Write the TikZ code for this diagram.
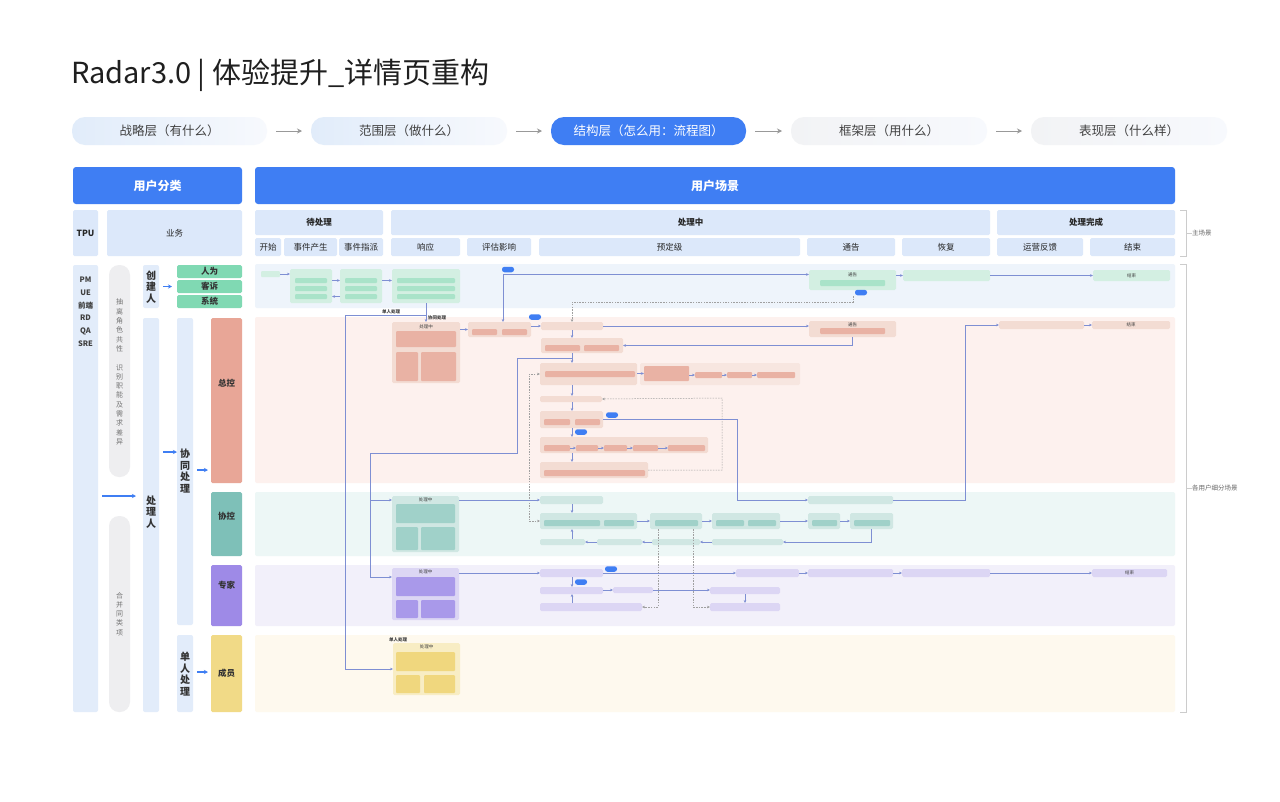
\documentclass[tikz,border=0pt]{standalone}
\usepackage{fontspec}
\setmainfont{Noto Sans CJK SC}
\usetikzlibrary{arrows.meta}
\definecolor{cBlue}{HTML}{3F7EF3}
\definecolor{cHead}{HTML}{DCE8FA}
\definecolor{cPillA}{HTML}{E1ECFA}
\definecolor{cPillB}{HTML}{F7F9FD}
\definecolor{cGray}{HTML}{F2F3F5}
\definecolor{cSide}{HTML}{EEEEF0}
\definecolor{cCol}{HTML}{E2ECFA}
\definecolor{cGreen}{HTML}{80D9B3}
\definecolor{cSal}{HTML}{E8A697}
\definecolor{cTeal}{HTML}{7EC0B8}
\definecolor{cPur}{HTML}{9E8AE7}
\definecolor{cYel}{HTML}{F1DA87}
\definecolor{cLaneA}{HTML}{EEF4FB}
\definecolor{cLaneS}{HTML}{FDF1EE}
\definecolor{cLaneT}{HTML}{EDF7F6}
\definecolor{cLaneP}{HTML}{F2F0FA}
\definecolor{cLaneY}{HTML}{FEF9EE}
\definecolor{gG}{HTML}{D3EFE2}
\definecolor{iG}{HTML}{A9E3C9}
\definecolor{gS}{HTML}{F3DCD3}
\definecolor{iS}{HTML}{E9B2A4}
\definecolor{gT}{HTML}{D0E7E3}
\definecolor{iT}{HTML}{A0D1C9}
\definecolor{gP}{HTML}{DCD6F4}
\definecolor{iP}{HTML}{A999EA}
\definecolor{gY}{HTML}{F8EDC4}
\definecolor{iY}{HTML}{F0D77E}
\definecolor{cLine}{HTML}{7E8FD3}
\definecolor{cDash}{HTML}{A0A0A0}
\newcommand\mybox[7]{\node[#6, minimum width={(#4)-(#2)}, minimum height={(#5)-(#3)}] (#1) at ({((#2)+(#4))/2},{((#3)+(#5))/2}) {#7};}
\tikzset{
 base/.style={inner sep=0pt, outer sep=0pt, align=center},
 pillL/.style={base, rounded corners=13pt, left color=cPillA, right color=cPillB, font=\fontsize{12.5}{13}\selectfont, text=black!75},
 pillB/.style={base, rounded corners=13pt, fill=cBlue, font=\fontsize{12.5}{13}\selectfont, text=white},
 pillG/.style={base, rounded corners=13pt, left color=cGray, right color=cPillB, font=\fontsize{12.5}{13}\selectfont, text=black!75},
 garrow/.style={draw=black!40, line width=1pt, -{Stealth[length=5pt,width=5pt]}},
 bhead/.style={base, rounded corners=3pt, fill=cBlue, text=white, font=\fontsize{12}{12}\selectfont\bfseries},
 lhead/.style={base, rounded corners=1.5pt, fill=cHead, text=black!85, font=\fontsize{8.5}{9}\selectfont},
 lheadb/.style={lhead, font=\fontsize{8.5}{9}\selectfont\bfseries},
 col/.style={base, rounded corners=2pt, fill=cCol},
 side/.style={base, rounded corners=10pt, fill=cSide},
 vtxt/.style={base, font=\fontsize{10}{11.6}\selectfont\bfseries, text=black!80},
 stxt/.style={base, font=\fontsize{7}{9.3}\selectfont, text=black!55},
 barrow/.style={draw=cBlue, line width=1.1pt, -{Stealth[length=4pt,width=4pt]}},
 role/.style={base, rounded corners=1.5pt, font=\fontsize{8.5}{9}\selectfont\bfseries, text=black!80},
 lane/.style={base, rounded corners=2pt},
 grp/.style={base, rounded corners=1.5pt},
 inb/.style={base, rounded corners=1pt},
 tiny/.style={base, font=\fontsize{4.5}{5}\selectfont, text=black!75},
 tag/.style={base, rounded corners=2.5pt, fill=cBlue, minimum width=12pt, minimum height=5.5pt},
 flow/.style={draw=cLine, line width=0.6pt, -{Stealth[length=3pt,width=2.6pt]}},
 fline/.style={draw=cLine, line width=0.6pt},
 dsh/.style={draw=cDash, line width=0.5pt, dash pattern=on 1.5pt off 1.2pt},
 dshA/.style={dsh, -{Stealth[length=3pt,width=2.6pt]}},
 brk/.style={draw=black!20, line width=0.6pt},
 note/.style={base, font=\fontsize{6.5}{7}\selectfont, text=black!60, anchor=west},
}
\begin{document}
\begin{tikzpicture}[x=1pt,y=-1pt]
\useasboundingbox[fill=white] (0,0) rectangle (1280,801);

% title
\node[base, anchor=base west, font=\fontsize{29}{29}\selectfont, text=black!88] (title) at (71,83) {Radar3.0 | 体验提升\_详情页重构};

% pipeline
\mybox{p1}{72}{117}{267}{145}{pillL}{战略层（有什么）}
\mybox{p2}{311}{117}{507}{145}{pillL}{范围层（做什么）}
\mybox{p3}{551}{117}{746}{145}{pillB}{结构层（怎么用：流程图）}
\mybox{p4}{791}{117}{987}{145}{pillG}{框架层（用什么）}
\mybox{p5}{1031}{117}{1227}{145}{pillG}{表现层（什么样）}
\draw[garrow] ([xshift=9pt]p1.east) -- ([xshift=-9pt]p2.west);
\draw[garrow] ([xshift=9pt]p2.east) -- ([xshift=-9pt]p3.west);
\draw[garrow] ([xshift=9pt]p3.east) -- ([xshift=-9pt]p4.west);
\draw[garrow] ([xshift=9pt]p4.east) -- ([xshift=-9pt]p5.west);

% headers
\mybox{h1}{73}{167}{242}{204}{bhead}{用户分类}
\mybox{h2}{255}{167}{1175}{204}{bhead}{用户场景}
\mybox{tpu}{73}{210}{98}{256}{lheadb}{TPU}
\mybox{yw}{107}{210}{242}{256}{lhead}{业务}
\mybox{s1}{255}{210}{383}{235}{lheadb}{待处理}
\mybox{s2}{391}{210}{990}{235}{lheadb}{处理中}
\mybox{s3}{997}{210}{1175}{235}{lheadb}{处理完成}
\mybox{c1}{255}{238}{281}{256}{lhead}{开始}
\mybox{c2}{284}{238}{337}{256}{lhead}{事件产生}
\mybox{c3}{339}{238}{383}{256}{lhead}{事件指派}
\mybox{c4}{391}{238}{460}{256}{lhead}{响应}
\mybox{c5}{467}{238}{531}{256}{lhead}{评估影响}
\mybox{c6}{539}{238}{800}{256}{lhead}{预定级}
\mybox{c7}{807}{238}{895}{256}{lhead}{通告}
\mybox{c8}{902}{238}{990}{256}{lhead}{恢复}
\mybox{c9}{997}{238}{1083}{256}{lhead}{运营反馈}
\mybox{c10}{1090}{238}{1175}{256}{lhead}{结束}

% right brackets
\coordinate (b1a) at (1180,210); \coordinate (b1b) at (1186,210); \coordinate (b1c) at (1186,256); \coordinate (b1d) at (1180,256);
\draw[brk] (b1a) -- (b1b) -- (b1c) -- (b1d);
\node[note] (n1) at (1192,233) {主场景};
\coordinate (b1m) at (1186,233); \draw[brk] (b1m) -- (n1.west);
\coordinate (b2a) at (1180,264); \coordinate (b2b) at (1186,264); \coordinate (b2c) at (1186,712); \coordinate (b2d) at (1180,712);
\draw[brk] (b2a) -- (b2b) -- (b2c) -- (b2d);
\node[note] (n2) at (1192,488) {各用户细分场景};
\coordinate (b2m) at (1186,488); \draw[brk] (b2m) -- (n2.west);

% left panel
\mybox{tpucol}{73}{265}{98}{712}{col}{}
\node[base, font=\fontsize{7.5}{12.8}\selectfont\bfseries, text=black!75, anchor=north] (roles) at (85.5,277) {PM\\UE\\前端\\RD\\QA\\SRE};
\mybox{sp1}{109}{265}{130}{477}{side}{}
\node[stxt] (sp1t) at (119.5,372) {抽\\离\\角\\色\\共\\性\\[9.3pt]识\\别\\职\\能\\及\\需\\求\\差\\异};
\mybox{sp2}{109}{516}{130}{712}{side}{}
\node[stxt] (sp2t) at (119.5,614) {合\\并\\同\\类\\项};
\mybox{cj}{143}{265}{159}{308}{col}{}
\node[vtxt] (cjt) at (151,287) {创\\建\\人};
\mybox{clr}{143}{318}{159}{712}{col}{}
\node[vtxt] (clrt) at (151,512) {处\\理\\人};
\mybox{xt}{177}{318}{193}{625}{col}{}
\node[vtxt] (xtt) at (185,471) {协\\同\\处\\理};
\mybox{dr}{177}{635}{193}{712}{col}{}
\node[vtxt] (drt) at (185,674) {单\\人\\处\\理};
\mybox{r1}{177}{265}{242}{278}{role, fill=cGreen}{人为}
\mybox{r2}{177}{280}{242}{293}{role, fill=cGreen}{客诉}
\mybox{r3}{177}{295}{242}{308}{role, fill=cGreen}{系统}
\mybox{zk}{211}{318}{242}{483}{role, fill=cSal}{}
\node[role] (zkt) at (226.5,383) {总控};
\mybox{xk}{211}{492}{242}{556}{role, fill=cTeal}{}
\node[role] (xkt) at (226.5,516) {协控};
\mybox{zj}{211}{565}{242}{626}{role, fill=cPur}{}
\node[role] (zjt) at (226.5,585) {专家};
\mybox{cy}{211}{635}{242}{712}{role, fill=cYel}{成员}
\coordinate (a1s) at (102,496); \coordinate (a1e) at (136,496);
\draw[barrow] (a1s) -- (a1e);
\draw[barrow] ([xshift=4pt]cj.east) -- ([xshift=-5pt]cj.east -| r2.west);
\coordinate (a2) at (163,452);
\draw[barrow] (a2) -- (a2 -| xt.west);
\coordinate (a3) at (197,470);
\draw[barrow] (a3) -- ([xshift=-3pt]a3 -| zk.west);
\coordinate (a4) at (197,672);
\draw[barrow] (a4) -- ([xshift=-3pt]a4 -| cy.west);

% lanes
\mybox{laneA}{255}{264}{1175}{308}{lane, fill=cLaneA}{}
\mybox{laneS}{255}{317}{1175}{483}{lane, fill=cLaneS}{}
\mybox{laneT}{255}{492}{1175}{556}{lane, fill=cLaneT}{}
\mybox{laneP}{255}{565}{1175}{626}{lane, fill=cLaneP}{}
\mybox{laneY}{255}{635}{1175}{712}{lane, fill=cLaneY}{}

% ---- top lane
\mybox{sA}{261}{271}{280}{277}{inb, fill=gG}{}
\mybox{gA1}{290}{269}{332}{303}{grp, fill=gG}{}
\mybox{gA1a}{295}{278}{327}{283}{inb, fill=iG}{}
\mybox{gA1b}{295}{286}{327}{291}{inb, fill=iG}{}
\mybox{gA1c}{295}{294}{327}{299}{inb, fill=iG}{}
\mybox{gA2}{340}{269}{382}{303}{grp, fill=gG}{}
\mybox{gA2a}{345}{278}{377}{283}{inb, fill=iG}{}
\mybox{gA2b}{345}{286}{377}{291}{inb, fill=iG}{}
\mybox{gA2c}{345}{294}{377}{299}{inb, fill=iG}{}
\mybox{gA3}{392}{269}{460}{303}{grp, fill=gG}{}
\mybox{gA3a}{397}{278}{455}{283}{inb, fill=iG}{}
\mybox{gA3b}{397}{286}{455}{291}{inb, fill=iG}{}
\mybox{gA3c}{397}{294}{455}{299}{inb, fill=iG}{}
\mybox{gA4}{809}{270}{896}{290}{grp, fill=gG}{}
\node[tiny] (gA4t) at (852.5,274.5) {通告};
\mybox{gA4a}{820}{280}{885}{286}{inb, fill=iG}{}
\mybox{gA5}{903}{270}{990}{281}{grp, fill=gG}{}
\mybox{gA6}{1093}{270}{1170}{281}{grp, fill=gG}{}
\node[tiny] (gA6t) at (1131.5,275.5) {结束};
\draw[flow] (sA.east) -- (sA.east -| gA1.west);
\draw[flow] (gA1.east |- gA1a) -- (gA2.west |- gA2a);
\draw[flow] (gA2.west |- gA2c) -- (gA1.east |- gA1c);
\draw[flow] (gA2.east |- gA2a) -- (gA3.west |- gA3a);
\draw[flow] (gA4.east |- gA5) -- (gA5.west);
\draw[flow] (gA5.east) -- (gA6.west);
\node[tag] (tagA) at (508,269.5) {};
\coordinate (j2) at (503,274.5);
\draw[flow] (j2) -- (j2 -| gA4.west);
\node[tag] (tagB) at (861,292.5) {};
\coordinate (d1) at (853,296); \coordinate (d2) at (853,302); \coordinate (d3) at (572,302);

% ---- salmon lane
\mybox{gS1}{392}{322}{460}{383}{grp, fill=gS}{}
\node[tiny] (gS1t) at (426,326.5) {处理中};
\mybox{gS1a}{396}{331}{456}{347}{inb, fill=iS}{}
\mybox{gS1b}{396}{352}{418}{381}{inb, fill=iS}{}
\mybox{gS1c}{421}{352}{456}{381}{inb, fill=iS}{}
\mybox{gS2}{468}{322}{531}{337}{grp, fill=gS}{}
\mybox{gS2a}{472}{329}{497}{335}{inb, fill=iS}{}
\mybox{gS2b}{502}{329}{527}{335}{inb, fill=iS}{}
\node[tag] (tagC) at (535,317) {};
\mybox{gS3}{541}{322}{603}{330}{grp, fill=gS}{}
\mybox{gS4}{541}{338}{623}{353}{grp, fill=gS}{}
\mybox{gS4a}{545}{345}{580}{351}{inb, fill=iS}{}
\mybox{gS4b}{584}{345}{619}{351}{inb, fill=iS}{}
\mybox{gS5}{809}{321}{896}{337}{grp, fill=gS}{}
\node[tiny] (gS5t) at (852.5,324.5) {通告};
\mybox{gS5a}{820}{328}{885}{334}{inb, fill=iS}{}
\mybox{gS6}{999}{321}{1084}{329}{grp, fill=gS}{}
\mybox{gS7}{1092}{321}{1170}{329}{grp, fill=gS}{}
\node[tiny] (gS7t) at (1131,325) {结束};
\mybox{gS8}{540}{363}{637}{385}{grp, fill=gS}{}
\mybox{gS8a}{545}{371}{635}{377}{inb, fill=iS}{}
\mybox{gS9}{640}{363}{800}{385}{grp, fill=gS!70}{}
\mybox{gS9a}{644}{366}{689}{381}{inb, fill=iS}{}
\mybox{gS9b}{695}{372}{722}{378}{inb, fill=iS}{}
\mybox{gS9c}{727}{372}{752}{378}{inb, fill=iS}{}
\mybox{gS9d}{757}{372}{795}{378}{inb, fill=iS}{}
\mybox{gS10}{540}{396}{602}{402}{grp, fill=gS}{}
\mybox{gS11}{540}{411}{603}{428}{grp, fill=gS}{}
\mybox{gS11a}{544}{419}{570}{425}{inb, fill=iS}{}
\mybox{gS11b}{575}{419}{600}{425}{inb, fill=iS}{}
\node[tag] (tagD) at (612,415) {};
\node[tag] (tagE) at (581,432) {};
\mybox{gS12}{540}{437}{708}{453}{grp, fill=gS}{}
\mybox{gS12a}{544}{445}{570}{451}{inb, fill=iS}{}
\mybox{gS12b}{576}{445}{598}{451}{inb, fill=iS}{}
\mybox{gS12c}{604}{445}{627}{451}{inb, fill=iS}{}
\mybox{gS12d}{633}{445}{658}{451}{inb, fill=iS}{}
\mybox{gS12e}{668}{445}{705}{451}{inb, fill=iS}{}
\mybox{gS13}{540}{462}{648}{478}{grp, fill=gS}{}
\mybox{gS13a}{544}{470}{645}{476}{inb, fill=iS}{}

% ---- teal lane
\mybox{gT1}{392}{496}{459}{552}{grp, fill=gT}{}
\node[tiny] (gT1t) at (425.5,500) {处理中};
\mybox{gT1a}{396}{504}{455}{523}{inb, fill=iT}{}
\mybox{gT1b}{396}{527}{418}{550}{inb, fill=iT}{}
\mybox{gT1c}{421}{527}{455}{550}{inb, fill=iT}{}
\mybox{gT2}{540}{496}{603}{504}{grp, fill=gT}{}
\mybox{gT3}{540}{513}{637}{529}{grp, fill=gT}{}
\mybox{gT3a}{544}{520}{600}{526}{inb, fill=iT}{}
\mybox{gT3b}{604}{520}{634}{526}{inb, fill=iT}{}
\mybox{gT4}{650}{513}{702}{529}{grp, fill=gT}{}
\mybox{gT4a}{655}{520}{698}{526}{inb, fill=iT}{}
\mybox{gT5}{712}{513}{780}{529}{grp, fill=gT}{}
\mybox{gT5a}{716}{520}{744}{526}{inb, fill=iT}{}
\mybox{gT5b}{748}{520}{776}{526}{inb, fill=iT}{}
\mybox{gT6}{808}{513}{840}{529}{grp, fill=gT}{}
\mybox{gT6a}{812}{520}{837}{526}{inb, fill=iT}{}
\mybox{gT7}{850}{513}{893}{529}{grp, fill=gT}{}
\mybox{gT7a}{854}{520}{890}{526}{inb, fill=iT}{}
\mybox{gT8}{808}{496}{893}{504}{grp, fill=gT}{}
\mybox{gT9}{540}{539}{585}{545}{grp, fill=gT}{}
\mybox{gT10}{597}{539}{642}{545}{grp, fill=gT}{}
\mybox{gT11}{652}{539}{700}{545}{grp, fill=gT}{}
\mybox{gT12}{712}{539}{783}{545}{grp, fill=gT}{}

% ---- purple lane
\mybox{gP1}{392}{568}{459}{620}{grp, fill=gP}{}
\node[tiny] (gP1t) at (425.5,572) {处理中};
\mybox{gP1a}{396}{577}{455}{596}{inb, fill=iP}{}
\mybox{gP1b}{396}{600}{418}{618}{inb, fill=iP}{}
\mybox{gP1c}{421}{600}{455}{618}{inb, fill=iP}{}
\mybox{gP2}{540}{569}{603}{577}{grp, fill=gP}{}
\mybox{gP3}{736}{569}{799}{577}{grp, fill=gP}{}
\mybox{gP4}{808}{569}{893}{577}{grp, fill=gP}{}
\mybox{gP5}{902}{569}{990}{577}{grp, fill=gP}{}
\mybox{gP6}{1092}{569}{1167}{577}{grp, fill=gP}{}
\node[tiny] (gP6t) at (1129.5,573) {结束};
\node[tag] (tagF) at (611,569) {};
\node[tag] (tagG) at (581,582) {};
\mybox{gP7}{540}{587}{603}{594}{grp, fill=gP}{}
\mybox{gP8}{613}{587}{653}{593}{grp, fill=gP}{}
\mybox{gP9}{710}{587}{780}{594}{grp, fill=gP}{}
\mybox{gP10}{710}{603}{780}{611}{grp, fill=gP}{}
\mybox{gP11}{540}{603}{642}{611}{grp, fill=gP}{}

% ---- yellow lane
\mybox{gY1}{393}{643}{460}{695}{grp, fill=gY}{}
\node[tiny] (gY1t) at (426.5,647) {处理中};
\mybox{gY1a}{396}{652}{455}{671}{inb, fill=iY}{}
\mybox{gY1b}{396}{675}{420}{693}{inb, fill=iY}{}
\mybox{gY1c}{424}{675}{455}{693}{inb, fill=iY}{}
\node[tiny, font=\fontsize{4.5}{5}\selectfont\bfseries] (lblY) at (398,640) {单人处理};

% ---- connectors
\node[tiny, font=\fontsize{4.5}{5}\selectfont\bfseries] (lblS1) at (391,312) {单人处理};
\node[tiny, font=\fontsize{4.5}{5}\selectfont\bfseries] (lblS2) at (437,318) {协同处理};
\draw[flow] (gA3.south) -- (gS1.north);
\coordinate (j1) at (426,315.5); \coordinate (j1L) at (345,315.5);
\draw[flow] (j1) -- (j1L) |- (gY1.west);
\draw[flow] (j2) -- (j2 |- gS2.north);
\draw[dshA] (d1) -- (d2) -- (d3) -- (d3 |- gS3.north);
\draw[flow] (gS2.west -| gS1.east) -- (gS2.west);
\draw[flow] (gS2.east |- gS3) -- (gS3.west);
\coordinate (colX) at (572,0);
\draw[flow] (gS3.south -| colX) -- (gS4.north -| colX);
\draw[flow] (gS3.east) -- (gS3.east -| gS5.west);
\draw[flow] (gS5.south) |- (gS4.east);
\draw[flow] (gS4.south -| colX) -- (gS8.north -| colX);
\draw[flow] (gS8.east |- gS9a) -- (gS9a.west);
\draw[flow] (gS9a.east |- gS9b) -- (gS9b.west);
\draw[flow] (gS9b.east) -- (gS9c.west);
\draw[flow] (gS9c.east) -- (gS9d.west);
\draw[flow] (gS8.south -| colX) -- (gS10.north -| colX);
\draw[flow] (gS10.south -| colX) -- (gS11.north -| colX);
\draw[flow] (gS11.south -| colX) -- (gS12.north -| colX);
\draw[flow] (gS12.south -| colX) -- (gS13.north -| colX);
\draw[flow] (gS12a.east) -- (gS12b.west);
\draw[flow] (gS12b.east) -- (gS12c.west);
\draw[flow] (gS12c.east) -- (gS12d.west);
\draw[flow] (gS12d.east) -- (gS12e.west);
\coordinate (dR) at (722,398);
\draw[dshA] (gS13.east) -| (dR) -- (gS10.east);
\coordinate (dL) at (529,521);
\draw[dsh, {Stealth[length=3pt,width=2.6pt]}-{Stealth[length=3pt,width=2.6pt]}] (gS8.west) -| (dL) -- (gT3.west);
% left loop to teal/purple
\coordinate (k1) at (572,358); \coordinate (k2) at (517,453); \coordinate (k3) at (370,453);
\coordinate (pinT) at (392,500); \coordinate (pinP) at (392,577);
\draw[flow] (k1) -| (k2) -- (k3) |- (pinP);
\draw[flow] (pinT -| k3) -- (pinT);
% teal / recover
\coordinate (c737) at (737,500); \coordinate (c965) at (965,500);
\draw[flow] (gS11.east) -| (c737) -- (gT8.west);
\draw[flow] (gT8.east) -- (c965) |- (gS6.west);
\draw[flow] (gS6.east) -- (gS7.west);
\draw[flow] (gT2.west -| gT1.east) -- (gT2.west);
\draw[flow] (gT2.south -| colX) -- (gT3.north -| colX);
\draw[flow] (gT3.east) -- (gT4.west);
\draw[flow] (gT4.east) -- (gT5.west);
\draw[flow] (gT5.east) -- (gT6.west);
\draw[flow] (gT6.east) -- (gT7.west);
\draw[flow] (gT7.south) |- (gT12.east);
\draw[flow] (gT12.west) -- (gT11.east);
\draw[flow] (gT11.west) -- (gT10.east);
\draw[flow] (gT10.west) -- (gT9.east);
\draw[flow] (gT9.north -| colX) -- (gT3.south -| colX);
\draw[dshA] ([xshift=-18pt]gT4.south) |- (gP11.east);
\draw[dshA] ([xshift=17pt]gT4.south) |- (gP10.west);
% purple
\draw[flow] (gP2.west -| gP1.east) -- (gP2.west);
\draw[flow] (gP2.east) -- (gP3.west);
\draw[flow] (gP3.east) -- (gP4.west);
\draw[flow] (gP4.east) -- (gP5.west);
\draw[flow] (gP5.east) -- (gP6.west);
\draw[flow] (gP2.south -| colX) -- (gP7.north -| colX);
\draw[flow] (gP7.east |- gP8) -- (gP8.west);
\draw[flow] (gP8.east) -- (gP8.east -| gP9.west);
\draw[flow] (gP9.south) -- (gP10.north);
\draw[flow] (gP11.north -| colX) -- (gP7.south -| colX);
\end{tikzpicture}
\end{document}
